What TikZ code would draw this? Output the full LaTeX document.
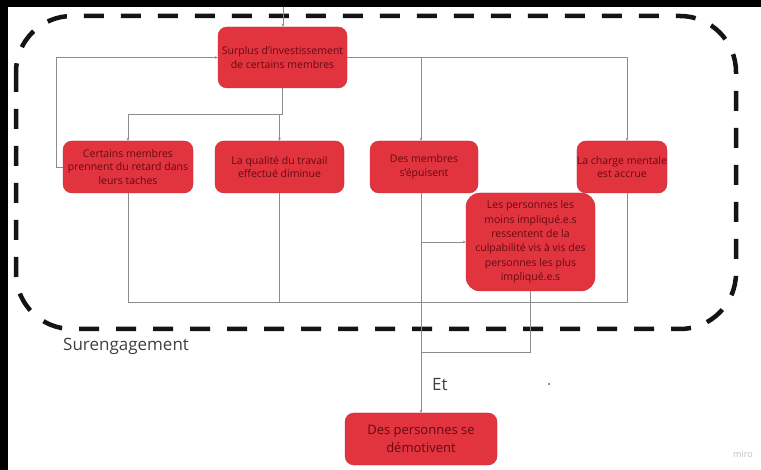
\documentclass[tikz,border=0pt]{standalone}
\usepackage{fontspec}
\setmainfont{Open Sans}
\usetikzlibrary{arrows.meta}
\definecolor{boxred}{HTML}{E1343F}
\definecolor{boxtext}{HTML}{650A12}
\definecolor{linegray}{HTML}{8C8C8C}
\begin{document}
\begin{tikzpicture}[x=1pt,y=-1pt,
  box/.style={rectangle, rounded corners=9pt, fill=boxred, draw=boxred!85!black, line width=0.4pt,
    text=boxtext, align=center, inner sep=0pt, font=\fontsize{10.5}{13.5}\selectfont},
  conn/.style={draw=linegray, line width=0.8pt},
  arr/.style={conn, -{Stealth[length=3pt,width=2.6pt]}},
  lab/.style={text=black!75, font=\fontsize{17}{20}\selectfont, inner sep=0pt},
  frame/.style={draw=black!92, line width=4.5pt, rounded corners=56pt, dash pattern=on 20pt off 17pt}
]
\useasboundingbox (0,0) rectangle (761,470);
\fill[black] (0,0) rectangle (761,470);
\fill[white] (8,7) rectangle (761,470);

% dashed frame
\draw[frame] (16,16) rectangle (736,329);

% nodes
\node[box, minimum width=129pt, minimum height=61pt] (surplus) at (282.5,57.5)
  {Surplus d'investissement\\de certains membres};
\node[box, minimum width=130pt, minimum height=52pt] (certains) at (128,167)
  {Certains membres\\prennent du retard dans\\leurs taches};
\node[box, minimum width=129pt, minimum height=52pt] (qualite) at (279.5,167)
  {La qualité du travail\\effectué diminue};
\node[box, minimum width=108pt, minimum height=52pt] (epuise) at (424,167)
  {Des membres\\s'épuisent};
\node[box, minimum width=90pt, minimum height=52pt] (charge) at (622,167)
  {La charge mentale\\est accrue};
\node[box, rounded corners=14pt, minimum width=129pt, minimum height=98pt,
  font=\fontsize{10.5}{14.3}\selectfont] (culp) at (530.5,242)
  {Les personnes les\\moins impliqué.e.s\\ressentent de la\\culpabilité vis à vis des\\personnes les plus\\impliqué.e.s};
\node[box, minimum width=152pt, minimum height=52pt, font=\fontsize{13}{17.5}\selectfont] (demot) at (421,439)
  {Des personnes se\\démotivent};

% labels
\node[lab, anchor=west] (sureng) at (63,346) {Surengagement};
\node[lab, anchor=west] (et) at (432,385) {Et};
\node[circle, fill=black!70, inner sep=0pt, minimum size=2pt] (dot) at (549,384) {};
\node[text=black!25, font=\fontsize{9}{10}\selectfont, inner sep=0pt] (miro) at (743,454) {miro};

% coordinates
\coordinate (top) at (283,7);
\coordinate (busL) at (128,302);
\coordinate (busR) at (627,302);
\coordinate (join) at (421,352);

% connectors
\draw[arr] (top) -- (top |- surplus.north);
\draw[arr] (certains.west) -- ([xshift=-6pt]certains.west) |- (surplus.west);
\draw[arr] (surplus.south) -- ++(0,26) -| (certains.north);
\draw[arr] (surplus.south) -- ++(0,26) -| (qualite.north);
\draw[arr] (surplus.east) -| ([xshift=-3pt]epuise.north);
\draw[arr] (surplus.east) -| ([xshift=5pt]charge.north);
\draw[arr] ([xshift=-3pt]epuise.south) |- (culp.west);
\draw[conn] (certains.south) -- (busL) -- (busR) -- ([xshift=5pt]charge.south);
\draw[conn] (qualite.south) -- (qualite.south |- busL);
\draw[arr] ([xshift=-3pt]epuise.south) -- (demot.north);
\draw[conn] (culp.south) |- (join);
\end{tikzpicture}
\end{document}
